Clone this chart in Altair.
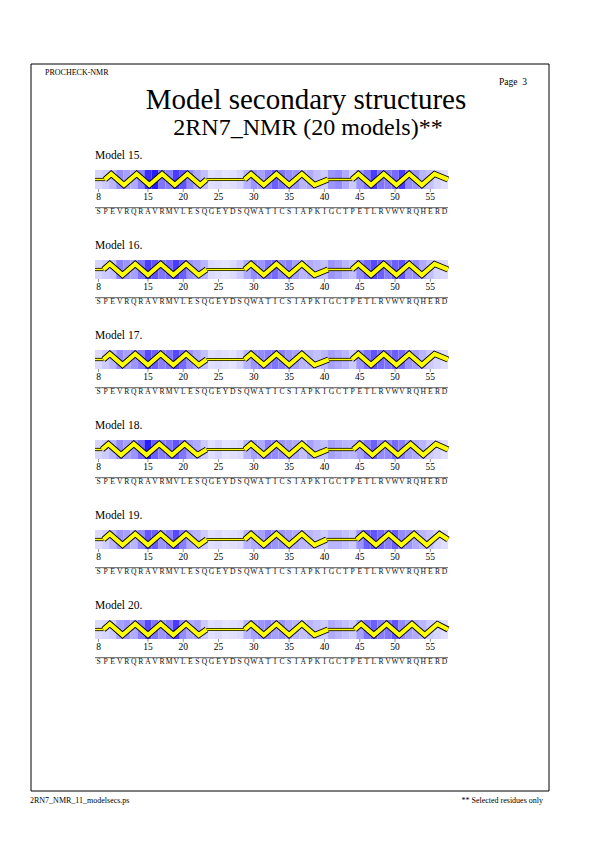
import altair as alt
import pandas as pd

# ---------------- data ----------------
SEQUENCE = "SPEVRQRAVRMVLESQGEYDSQWATICSIAPKIGCTPETLRVWVRQHERD"
RESIDUES = list(range(8, 58))
MODELS = [15, 16, 17, 18, 19, 20]
TICKS = [8, 15, 20, 25, 30, 35, 40, 45, 50, 55]

SHADE_15 = [0.15, 0.2, 0.3, 0.5, 0.4, 0.35, 0.55, 0.9, 0.95, 0.6,
            0.55, 0.85, 0.75, 0.5, 0.35, 0.25, 0.1, 0.12, 0.08, 0.1,
            0.15, 0.3, 0.45, 0.4, 0.55, 0.7, 0.6, 0.5, 0.45, 0.3,
            0.35, 0.25, 0.2, 0.45, 0.5, 0.35, 0.2, 0.45, 0.6, 0.85,
            0.6, 0.55, 0.65, 0.85, 0.5, 0.45, 0.3, 0.25, 0.15, 0.1]
SHADE_16 = [0.15, 0.2, 0.25, 0.55, 0.45, 0.4, 0.6, 0.85, 0.75, 0.6,
            0.65, 0.85, 0.7, 0.45, 0.4, 0.3, 0.12, 0.1, 0.08, 0.12,
            0.2, 0.35, 0.5, 0.45, 0.6, 0.65, 0.5, 0.55, 0.4, 0.3,
            0.35, 0.3, 0.25, 0.45, 0.4, 0.3, 0.25, 0.5, 0.65, 0.8,
            0.7, 0.55, 0.7, 0.75, 0.45, 0.5, 0.35, 0.25, 0.15, 0.12]
SHADE_17 = [0.12, 0.2, 0.3, 0.5, 0.4, 0.45, 0.55, 0.8, 0.7, 0.55,
            0.6, 0.8, 0.65, 0.45, 0.35, 0.25, 0.1, 0.12, 0.1, 0.08,
            0.15, 0.3, 0.45, 0.5, 0.55, 0.6, 0.55, 0.45, 0.4, 0.3,
            0.3, 0.25, 0.3, 0.4, 0.35, 0.3, 0.2, 0.45, 0.6, 0.75,
            0.65, 0.6, 0.7, 0.65, 0.45, 0.4, 0.3, 0.2, 0.15, 0.1]
SHADE_18 = [0.15, 0.2, 0.3, 0.5, 0.4, 0.45, 0.65, 0.95, 0.7, 0.55,
            0.6, 0.75, 0.6, 0.4, 0.35, 0.2, 0.1, 0.15, 0.08, 0.1,
            0.12, 0.3, 0.4, 0.35, 0.55, 0.5, 0.45, 0.4, 0.35, 0.25,
            0.4, 0.3, 0.25, 0.4, 0.35, 0.3, 0.3, 0.4, 0.55, 0.7,
            0.5, 0.5, 0.65, 0.55, 0.4, 0.35, 0.3, 0.2, 0.15, 0.1]
SHADE_19 = [0.12, 0.18, 0.3, 0.45, 0.4, 0.3, 0.5, 0.75, 0.7, 0.45,
            0.55, 0.8, 0.55, 0.35, 0.3, 0.2, 0.1, 0.12, 0.08, 0.1,
            0.12, 0.3, 0.35, 0.4, 0.55, 0.45, 0.45, 0.4, 0.35, 0.3,
            0.3, 0.25, 0.2, 0.3, 0.3, 0.25, 0.2, 0.45, 0.7, 0.75,
            0.65, 0.55, 0.7, 0.5, 0.45, 0.35, 0.3, 0.25, 0.15, 0.1]
SHADE_20 = [0.12, 0.15, 0.2, 0.4, 0.45, 0.35, 0.55, 0.8, 0.6, 0.45,
            0.55, 0.85, 0.5, 0.35, 0.4, 0.2, 0.1, 0.12, 0.08, 0.1,
            0.12, 0.3, 0.4, 0.45, 0.5, 0.4, 0.45, 0.35, 0.3, 0.25,
            0.3, 0.25, 0.2, 0.35, 0.3, 0.25, 0.2, 0.4, 0.6, 0.7,
            0.55, 0.6, 0.75, 0.5, 0.4, 0.35, 0.3, 0.2, 0.15, 0.1]
SHADES = {15: SHADE_15, 16: SHADE_16, 17: SHADE_17,
          18: SHADE_18, 19: SHADE_19, 20: SHADE_20}

# helix (start, end) residue positions per model
HELIX_15 = [(8.9, 23.3), (28.7, 40.5), (43.9, 57.5)]
HELIX_16 = [(8.7, 23.3), (28.7, 40.5), (43.9, 57.5)]
HELIX_17 = [(8.7, 23.3), (28.7, 40.6), (43.9, 57.5)]
HELIX_18 = [(8.5, 23.3), (28.7, 40.5), (44.1, 57.5)]
HELIX_19 = [(8.7, 23.3), (28.7, 40.3), (44.6, 57.5)]
HELIX_20 = [(8.7, 23.3), (28.7, 40.5), (44.3, 57.5)]
HELICES = {15: HELIX_15, 16: HELIX_16, 17: HELIX_17,
           18: HELIX_18, 19: HELIX_19, 20: HELIX_20}

# ---------------- layout ----------------
SERIF = "'Liberation Serif', 'Times New Roman', Times, serif"
ROW_TOP0, ROW_STEP, STRIP_H = 170, 90, 19
AMP = 5.5
RES_LO, RES_HI = 7.5, 57.5

xs = alt.Scale(domain=[-5.956, 78.322], nice=False, zero=False)
ys = alt.Scale(domain=[0, 842], range=[0, 842], nice=False, zero=False)

cells, coils, hel, ticks, letters, seqline, labels = [], [], [], [], [], [], []
for i, m in enumerate(MODELS):
    top = ROW_TOP0 + ROW_STEP * i
    bot = top + STRIP_H
    cen = top + STRIP_H / 2
    for r, s in zip(RESIDUES, SHADES[m]):
        cells.append(dict(x0=r - 0.5, x1=r + 0.5, top=top, bot=bot, shade=s))
    prev = RES_LO
    for (s, e) in HELICES[m]:
        if s - prev > 0.05:
            coils.append(dict(x0=prev, x1=s, y=cen))
        prev = e
    if RES_HI - prev > 0.05:
        coils.append(dict(x0=prev, x1=RES_HI, y=cen))
    for h, (s, e) in enumerate(HELICES[m]):
        hid = f"{m}-{h}"
        k = 0
        hel.append(dict(hid=hid, k=k, x=s, y=cen)); k += 1
        t, up = s + 0.9, True
        while t < e - 0.3:
            hel.append(dict(hid=hid, k=k, x=t, y=cen - AMP if up else cen + AMP))
            k += 1
            t += 1.8
            up = not up
        hel.append(dict(hid=hid, k=k, x=e, y=cen))
    for tk in TICKS:
        ticks.append(dict(x=tk, y0=bot, y1=bot + 3, ty=top + 29.5, label=str(tk)))
    for r, ch in zip(RESIDUES, SEQUENCE):
        letters.append(dict(x=r, y=top + 44.3, ch=ch))
    seqline.append(dict(x0=RES_LO, x1=RES_HI, y=top + 37.7))
    labels.append(dict(x=7.5, y=top - 11, text=f"Model {m}."))

cells = pd.DataFrame(cells)
coils = pd.DataFrame(coils)
hel = pd.DataFrame(hel)
ticks = pd.DataFrame(ticks)
letters = pd.DataFrame(letters)
seqline = pd.DataFrame(seqline)
labels = pd.DataFrame(labels)

strip = alt.Chart(cells).mark_rect().encode(
    x=alt.X("x0:Q", scale=xs, axis=None), x2="x1:Q",
    y=alt.Y("top:Q", scale=ys, axis=None), y2="bot:Q",
    color=alt.Color("shade:Q", legend=None,
                    scale=alt.Scale(domain=[0, 1], range=["#f4f4ff", "#0000ff"])),
)

coil_b = alt.Chart(coils).mark_rule(color="black", strokeWidth=3.2).encode(
    x=alt.X("x0:Q", scale=xs), x2="x1:Q", y=alt.Y("y:Q", scale=ys))
coil_y = alt.Chart(coils).mark_rule(color="#ffff00", strokeWidth=1.6).encode(
    x=alt.X("x0:Q", scale=xs), x2="x1:Q", y=alt.Y("y:Q", scale=ys))

hel_b = alt.Chart(hel).mark_line(color="black", strokeWidth=6, strokeJoin="miter").encode(
    x=alt.X("x:Q", scale=xs), y=alt.Y("y:Q", scale=ys),
    detail="hid:N", order="k:Q")
hel_y = alt.Chart(hel).mark_line(color="#ffff00", strokeWidth=4.2, strokeJoin="miter").encode(
    x=alt.X("x:Q", scale=xs), y=alt.Y("y:Q", scale=ys),
    detail="hid:N", order="k:Q")

tick_m = alt.Chart(ticks).mark_rule(color="#777777", strokeWidth=0.8).encode(
    x=alt.X("x:Q", scale=xs), y=alt.Y("y0:Q", scale=ys), y2="y1:Q")
tick_t = alt.Chart(ticks).mark_text(font=SERIF, fontSize=9.5, baseline="alphabetic",
                                    align="center", color="black").encode(
    x=alt.X("x:Q", scale=xs), y=alt.Y("ty:Q", scale=ys), text="label:N")

seq_r = alt.Chart(seqline).mark_rule(color="#333333", strokeWidth=0.8).encode(
    x=alt.X("x0:Q", scale=xs), x2="x1:Q", y=alt.Y("y:Q", scale=ys))
seq_t = alt.Chart(letters).mark_text(font=SERIF, fontSize=7.6, baseline="alphabetic",
                                     align="center", color="#111111").encode(
    x=alt.X("x:Q", scale=xs), y=alt.Y("y:Q", scale=ys), text="ch:N")

lab_t = alt.Chart(labels).mark_text(font=SERIF, fontSize=11.5, baseline="alphabetic",
                                    align="left", color="black").encode(
    x=alt.X("x:Q", scale=xs), y=alt.Y("y:Q", scale=ys), text="text:N")

one = pd.DataFrame({"a": [0]})
frame = alt.Chart(one).mark_rect(fillOpacity=0, stroke="black", strokeWidth=1).encode(
    x=alt.value(31), x2=alt.value(549), y=alt.value(64), y2=alt.value(791))


def page_text(txt, x, y, size, align="left"):
    return alt.Chart(pd.DataFrame({"t": [txt]})).mark_text(
        font=SERIF, fontSize=size, align=align, baseline="alphabetic", color="black"
    ).encode(x=alt.value(x), y=alt.value(y), text="t:N")


texts = [
    page_text("PROCHECK-NMR", 45, 75, 8),
    page_text("Page\u00a0\u00a03", 527, 85, 9.5, "right"),
    page_text("Model secondary structures", 306, 109, 29, "center"),
    page_text("2RN7_NMR (20 models)**", 308, 135, 24, "center"),
    page_text("2RN7_NMR_11_modelsecs.ps", 30, 803, 8),
    page_text("** Selected residues only", 543, 803, 8, "right"),
]

chart = alt.layer(
    frame, strip, coil_b, coil_y, hel_b, hel_y, tick_m, tick_t, seq_r, seq_t, lab_t, *texts
).properties(
    width=595, height=842, padding=0,
    autosize=alt.AutoSizeParams(type="none"),
    background="white",
).configure_view(strokeWidth=0)

chart.save("out.html", embed_options={"renderer": "svg", "actions": False})
